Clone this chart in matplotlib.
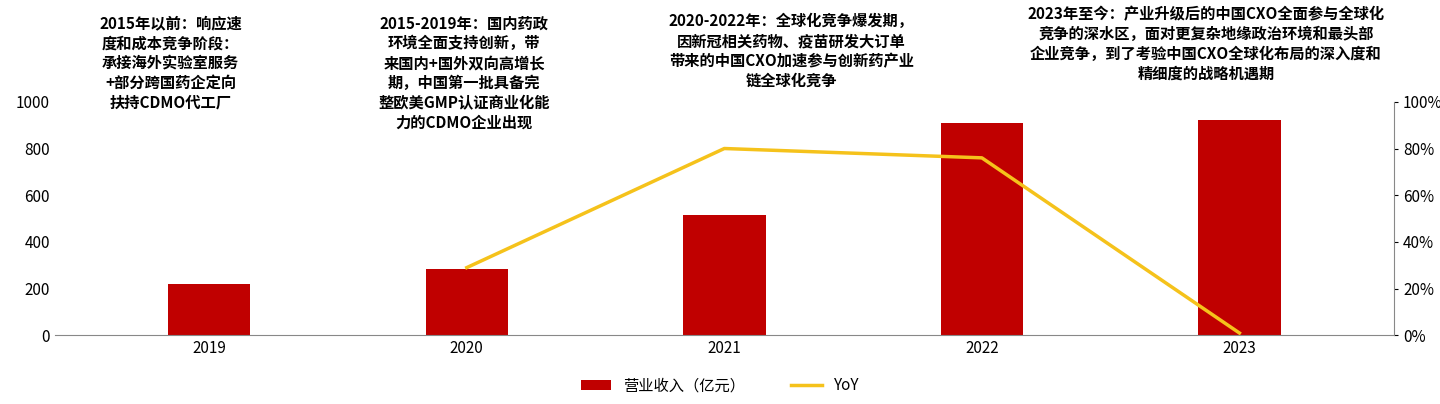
import matplotlib
matplotlib.use("Agg")
import matplotlib.pyplot as plt

plt.rcParams['font.family'] = ['Noto Sans CJK SC', 'DejaVu Sans']

years = ['2019', '2020', '2021', '2022', '2023']
revenue = [220, 285, 515, 910, 920]
yoy_years = ['2020', '2021', '2022', '2023']
yoy = [29, 80, 76, 1]
notes = [
    "2015年以前：响应速\n度和成本竞争阶段：\n承接海外实验室服务\n+部分跨国药企定向\n扶持CDMO代工厂",
    "2015-2019年：国内药政\n环境全面支持创新，带\n来国内+国外双向高增长\n期，中国第一批具备完\n整欧美GMP认证商业化能\n力的CDMO企业出现",
    "2020-2022年：全球化竞争爆发期，\n因新冠相关药物、疫苗研发大订单\n带来的中国CXO加速参与创新药产业\n链全球化竞争",
    "2023年至今：产业升级后的中国CXO全面参与全球化\n竞争的深水区，面对更复杂地缘政治环境和最头部\n企业竞争，到了考验中国CXO全球化布局的深入度和\n精细度的战略机遇期",
]
note_x = [-0.15, 0.99, 2.26, 3.87]
note_y = [1370, 1370, 1380, 1410]

fig = plt.figure(figsize=(14.4, 4.04), dpi=100)
ax = fig.add_axes([0.038, 0.17, 0.93, 0.578])
x = list(range(len(years)))
bars = ax.bar(x, revenue, width=0.32, color='#C00000', label='营业收入（亿元）')
ax.set_ylim(0, 1000)
ax.set_yticks(range(0, 1001, 200))
ax.set_xlim(-0.6, 4.6)
ax.set_xticks(x)
ax.set_xticklabels(years)
for s in ['top', 'right', 'left']:
    ax.spines[s].set_visible(False)
ax.spines['bottom'].set_color('#888888')
ax.tick_params(axis='both', labelsize=11, length=0)

ax2 = ax.twinx()
line, = ax2.plot([years.index(y) for y in yoy_years], yoy, color='#F5C21B', lw=2.5, label='YoY')
ax2.set_ylim(0, 100)
ax2.set_yticks(range(0, 101, 20))
ax2.set_yticklabels([f'{v}%' for v in range(0, 101, 20)])
for s in ['top', 'left', 'bottom']:
    ax2.spines[s].set_visible(False)
ax2.spines['right'].set_color('#888888')
ax2.tick_params(axis='y', labelsize=11, length=3)

for t, nx, ny in zip(notes, note_x, note_y):
    ax.text(nx, ny, t, ha='center', va='top', fontsize=11, fontweight='bold',
            linespacing=1.3, clip_on=False)

fig.legend(handles=[bars, line], loc='lower center', ncol=2, frameon=False,
           fontsize=11, bbox_to_anchor=(0.5, -0.01), columnspacing=3)
fig.savefig('out.png', dpi=100)
